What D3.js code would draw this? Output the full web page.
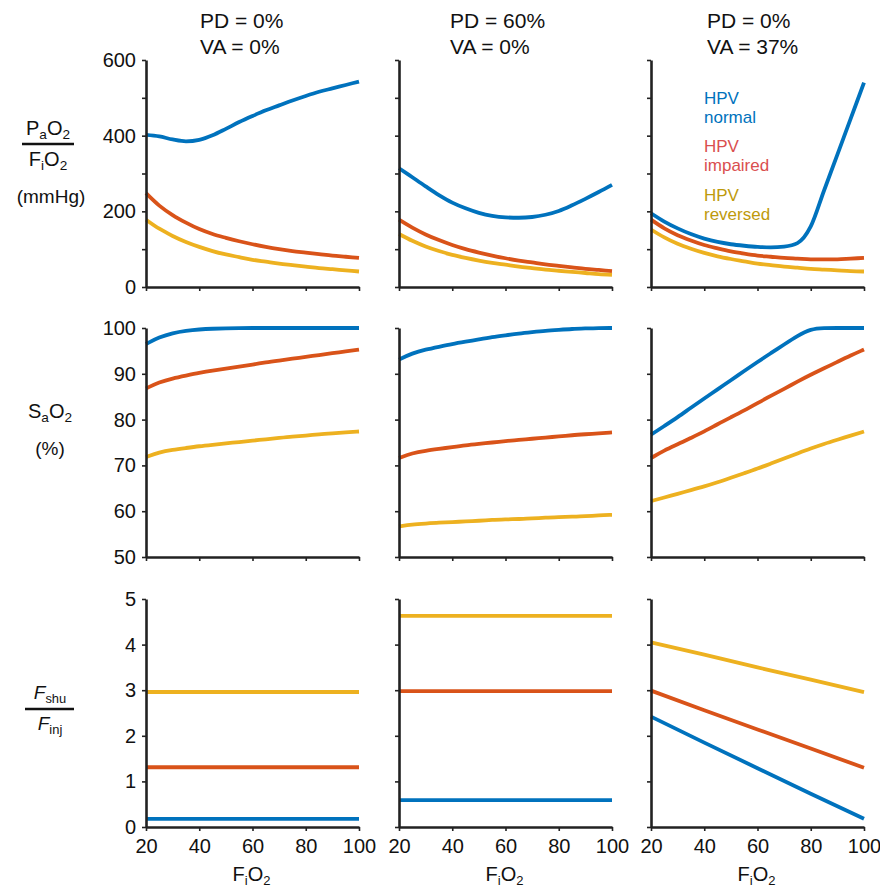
<!DOCTYPE html>
<html>
<head>
<meta charset="utf-8">
<script src="https://cdn.jsdelivr.net/npm/d3@7"></script>
<style>
  html, body { margin: 0; padding: 0; background: #fff; }
  svg { display: block; font-family: "Liberation Sans", Arial, Helvetica, sans-serif; }
</style>
</head>
<body>
<svg id="chart" width="880" height="889"></svg>
<script>
// ---------------- DATA ----------------
const fio2 = [20, 25, 30, 35, 40, 45, 50, 55, 60, 65, 70, 75, 80, 85, 90, 95, 100];
const fio2Coarse = [20, 40, 60, 80, 100];
const xTicks = [20, 40, 60, 80, 100];

const colTitles = [["PD = 0%", "VA = 0%"], ["PD = 60%", "VA = 0%"], ["PD = 0%", "VA = 37%"]];
const legendNames = [["HPV", "normal"], ["HPV", "impaired"], ["HPV", "reversed"]];

// PaO2/FiO2 (mmHg), one list per column
const ratioNormal = [
  [402, 398, 390, 385, 389, 401, 418, 436, 452, 467, 480, 493, 505, 516, 525, 534, 543],
  [314, 290, 266, 243, 223, 208, 196, 188, 184, 183, 185, 191, 201, 216, 233, 251, 270],
  [195, 173, 155, 140, 128, 119, 113, 109, 106, 105, 107, 116, 160, 255, 350, 445, 540]
];
const ratioImpaired = [
  [248, 215, 190, 170, 153, 140, 130, 121, 113, 106, 100, 95, 91, 87, 83, 80, 77],
  [178, 157, 139, 124, 111, 100, 91, 83, 76, 70, 65, 60, 56, 52, 48, 45, 42],
  [178, 155, 137, 123, 111, 102, 94, 88, 83, 80, 77, 75, 73, 73, 73, 75, 77]
];
const ratioReversed = [
  [178, 154, 135, 119, 106, 95, 86, 79, 72, 67, 62, 58, 54, 50, 47, 44, 41],
  [140, 122, 107, 95, 85, 77, 70, 64, 59, 54, 50, 46, 43, 40, 37, 34, 32],
  [152, 131, 114, 101, 90, 81, 74, 68, 62, 58, 54, 51, 48, 46, 44, 42, 41]
];

// SaO2 (%)
const satNormal = [
  [96.5, 98.0, 98.9, 99.4, 99.7, 99.85, 99.9, 100, 100, 100, 100, 100, 100, 100, 100, 100, 100],
  [93.1, 94.5, 95.3, 95.9, 96.5, 97.0, 97.5, 98.0, 98.4, 98.8, 99.1, 99.4, 99.6, 99.8, 99.9, 100, 100],
  [76.7, 78.6, 80.5, 82.6, 84.6, 86.6, 88.6, 90.6, 92.6, 94.5, 96.4, 98.3, 99.8, 100, 100, 100, 100]
];
const satImpaired = [
  [86.8, 88.2, 89.0, 89.6, 90.2, 90.7, 91.1, 91.6, 92.0, 92.5, 92.9, 93.3, 93.7, 94.1, 94.5, 94.9, 95.3],
  [71.6, 72.7, 73.2, 73.6, 74.0, 74.4, 74.7, 75.0, 75.3, 75.6, 75.8, 76.1, 76.3, 76.6, 76.8, 77.0, 77.2],
  [71.6, 73.3, 74.6, 76.0, 77.4, 79.0, 80.5, 82.0, 83.6, 85.2, 86.7, 88.3, 89.8, 91.2, 92.6, 94.0, 95.3]
];
const satReversed = [
  [71.8, 72.9, 73.4, 73.8, 74.2, 74.5, 74.8, 75.1, 75.4, 75.7, 76.0, 76.3, 76.5, 76.8, 77.0, 77.2, 77.4],
  [56.7, 57.1, 57.3, 57.5, 57.6, 57.8, 57.9, 58.1, 58.2, 58.3, 58.4, 58.6, 58.7, 58.8, 58.9, 59.1, 59.2],
  [62.2, 63.0, 63.8, 64.6, 65.4, 66.3, 67.3, 68.3, 69.3, 70.4, 71.5, 72.6, 73.7, 74.7, 75.6, 76.5, 77.4]
];

// Fshu/Finj (on coarse FiO2 grid)
const shuntNormal = [
  [0.18, 0.18, 0.18, 0.18, 0.18],
  [0.59, 0.59, 0.59, 0.59, 0.59],
  [2.42, 1.85, 1.29, 0.73, 0.18]
];
const shuntImpaired = [
  [1.31, 1.31, 1.31, 1.31, 1.31],
  [2.98, 2.98, 2.98, 2.98, 2.98],
  [2.99, 2.56, 2.14, 1.72, 1.30]
];
const shuntReversed = [
  [2.96, 2.96, 2.96, 2.96, 2.96],
  [4.63, 4.63, 4.63, 4.63, 4.63],
  [4.05, 3.78, 3.50, 3.23, 2.96]
];

const lineColors = ["#0072BD", "#D95319", "#EDB120"];
const legendColors = ["#0072BD", "#DA4F4F", "#BE9A0C"];

// ---------------- LAYOUT ----------------
const svg = d3.select("#chart");
const colX = [146, 399, 651];
const colW = 213;
const rowY = [[60, 287], [328, 557], [599, 827]];
const axisColor = "#222";
const FONT = '"Liberation Sans", Arial, Helvetica, sans-serif';

const rows = [
  { domain: [0, 600], ticks: d3.range(0, 601, 100), showLabel: d => d % 200 === 0,
    series: [ratioNormal, ratioImpaired, ratioReversed], xs: fio2, curve: d3.curveMonotoneX },
  { domain: [50, 100], ticks: d3.range(50, 101, 10), showLabel: d => true,
    series: [satNormal, satImpaired, satReversed], xs: fio2, curve: d3.curveBasis },
  { domain: [0, 5], ticks: d3.range(0, 6, 1), showLabel: d => true,
    series: [shuntNormal, shuntImpaired, shuntReversed], xs: fio2Coarse, curve: d3.curveLinear }
];

rows.forEach((row, ri) => {
  const [y0, y1] = rowY[ri];
  const y = d3.scaleLinear().domain(row.domain).range([y1, y0]);
  colX.forEach((cx, ci) => {
    const x = d3.scaleLinear().domain([20, 100]).range([cx, cx + colW]);
    const g = svg.append("g");

    // lines
    const line = d3.line().x((d, i) => x(row.xs[i])).y(d => y(d)).curve(row.curve);
    row.series.forEach((s, si) => {
      g.append("path")
        .attr("d", line(s[ci]))
        .attr("fill", "none")
        .attr("stroke", lineColors[si])
        .attr("stroke-width", 3.8)
        .attr("stroke-linecap", "butt")
        .attr("stroke-linejoin", "round");
    });

    // y axis
    const ya = g.append("g").attr("transform", `translate(${cx},0)`)
      .call(d3.axisLeft(y).tickValues(row.ticks).tickSize(4).tickSizeOuter(0).tickPadding(6)
        .tickFormat(d => (ci === 0 && row.showLabel(d)) ? d : ""));
    // x axis
    const xa = g.append("g").attr("transform", `translate(0,${y1})`)
      .call(d3.axisBottom(x).tickValues(xTicks).tickSize(4).tickSizeOuter(0).tickPadding(8)
        .tickFormat(d => ri === 2 ? d : ""));
    [ya, xa].forEach(a => {
      a.select(".domain").attr("stroke", axisColor).attr("stroke-width", 2.6);
      a.selectAll(".tick line").attr("stroke", axisColor).attr("stroke-width", 1.6);
      a.selectAll(".tick text").attr("fill", "#111").style("font-size", "20px")
        .style("font-family", FONT);
    });
  });
});

// column titles
const titleX = [200, 450, 707];
colTitles.forEach((t, ci) => {
  t.forEach((s, li) => {
    svg.append("text").attr("x", titleX[ci]).attr("y", li === 0 ? 28 : 54)
      .attr("font-size", 21).attr("fill", "#111").text(s);
  });
});

// x axis titles: FiO2
colX.forEach(cx => {
  const t = svg.append("text").attr("x", cx + colW / 2 - 1).attr("y", 881)
    .attr("text-anchor", "middle").attr("font-size", 20).attr("fill", "#111");
  t.append("tspan").text("F");
  t.append("tspan").attr("font-size", 13).attr("dy", 4).text("i");
  t.append("tspan").attr("dy", -4).text("O");
  t.append("tspan").attr("font-size", 13).attr("dy", 4).text("2");
});

// helper for sub-scripted label pieces
function subText(xc, yb, parts, size) {
  const t = svg.append("text").attr("x", xc).attr("y", yb).attr("text-anchor", "middle")
    .attr("font-size", size).attr("fill", "#111");
  let shifted = false;
  parts.forEach(p => {
    const ts = t.append("tspan").text(p.t);
    if (p.sub) {
      ts.attr("font-size", size * 0.68).attr("dy", shifted ? 0 : 4);
      shifted = true;
    } else {
      if (shifted) ts.attr("dy", -4);
      shifted = false;
    }
    if (p.it) ts.attr("font-style", "italic");
  });
  return t;
}

// Row 1 label
subText(48, 135, [{t: "P"}, {t: "a", sub: true}, {t: "O"}, {t: "2", sub: true}], 20);
svg.append("line").attr("x1", 22).attr("x2", 74).attr("y1", 144).attr("y2", 144)
  .attr("stroke", "#111").attr("stroke-width", 2.6);
subText(48, 166, [{t: "F"}, {t: "i", sub: true}, {t: "O"}, {t: "2", sub: true}], 20);
svg.append("text").attr("x", 51).attr("y", 203).attr("text-anchor", "middle")
  .attr("font-size", 19).attr("fill", "#111").text("(mmHg)");

// Row 2 label
subText(50, 418, [{t: "S"}, {t: "a", sub: true}, {t: "O"}, {t: "2", sub: true}], 20);
svg.append("text").attr("x", 50).attr("y", 455).attr("text-anchor", "middle")
  .attr("font-size", 19).attr("fill", "#111").text("(%)");

// Row 3 label
subText(50, 699, [{t: "F", it: true}, {t: "shu", sub: true}], 19);
svg.append("line").attr("x1", 25).attr("x2", 74).attr("y1", 709).attr("y2", 709)
  .attr("stroke", "#111").attr("stroke-width", 2.6);
subText(50, 730, [{t: "F", it: true}, {t: "inj", sub: true}], 19);

// Legend
const legendBase = [[104, 123], [152, 171], [201, 220]];
legendNames.forEach((n, i) => {
  n.forEach((s, j) => {
    svg.append("text").attr("x", 704).attr("y", legendBase[i][j])
      .attr("font-size", 17).attr("fill", legendColors[i]).text(s);
  });
});
</script>
</body>
</html>
